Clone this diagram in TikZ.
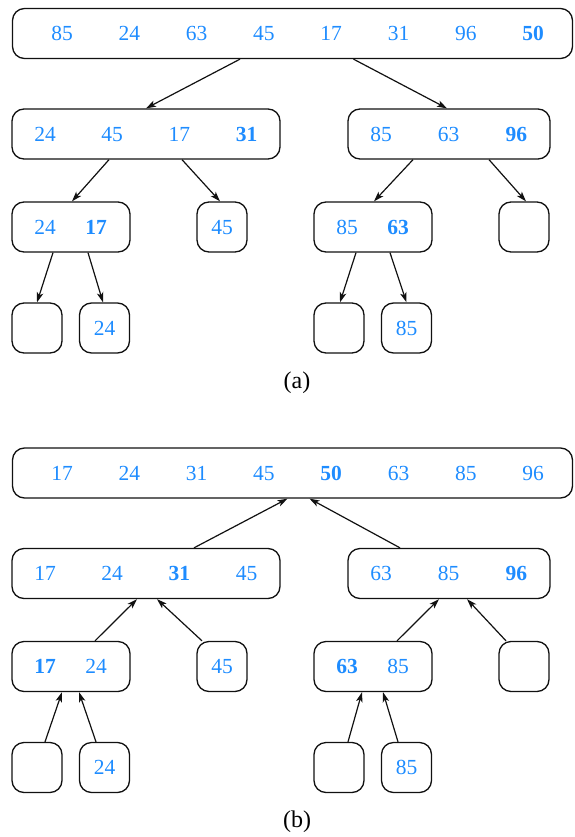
\documentclass[tikz,border=0pt]{standalone}
\usepackage{fontspec}
\setmainfont{Liberation Serif}
\usepackage{tikz}
\usetikzlibrary{arrows.meta}
\definecolor{KeyBlue}{HTML}{1E8CFF}
\definecolor{LineDark}{HTML}{111111}

\begin{document}
\begin{tikzpicture}[
    x=1pt, y=-1pt,
    box/.style={
        draw=LineDark,
        line width=1.3pt,
        rounded corners=12pt,
        minimum height=50pt,
        inner sep=0pt
    },
    num/.style={text=KeyBlue, font=\fontsize{21.5}{21.5}\selectfont,
        inner sep=0pt, text height=14.5pt, text depth=0pt},
    caption/.style={font=\fontsize{24}{24}\selectfont},
    link/.style={-{Stealth[length=10pt,width=6.5pt,inset=2.5pt]}, line width=1.2pt, draw=LineDark}
]
    \useasboundingbox (0,0) rectangle (574,837);

    % (a) splitting around the pivot
    \node[box, minimum width=560pt] (rootA) at (292.5,33.5) {};
    \node[box, minimum width=268pt] (leftA) at (146,134) {};
    \node[box, minimum width=202pt] (rightA) at (449,134) {};
    \node[box, minimum width=118pt] (llA) at (71,227) {};
    \node[box, minimum width=50pt] (lrA) at (222,227) {};
    \node[box, minimum width=118pt] (rlA) at (373,227) {};
    \node[box, minimum width=50pt] (rrA) at (524,227) {};
    \node[box, minimum width=50pt] (lllA) at (37,328) {};
    \node[box, minimum width=50pt] (llrA) at (104.5,328) {};
    \node[box, minimum width=50pt] (rllA) at (339,328) {};
    \node[box, minimum width=50pt] (rlrA) at (406.5,328) {};

    \foreach \v [count=\i] in {85,24,63,45,17,31,96,\textbf{50}}
        \node[num] (rootA-\i) at ({62+67.3*(\i-1)},33.5) {\v};
    \foreach \v [count=\i] in {24,45,17,\textbf{31}}
        \node[num] (leftA-\i) at ({45+67.2*(\i-1)},134) {\v};
    \foreach \v [count=\i] in {85,63,\textbf{96}}
        \node[num] (rightA-\i) at ({381+67.7*(\i-1)},134) {\v};
    \node[num] (llA-1) at (45,227) {24};
    \node[num] (llA-2) at (96,227) {\textbf{17}};
    \node[num] (lrA-1) at (222,227) {45};
    \node[num] (rlA-1) at (347,227) {85};
    \node[num] (rlA-2) at (398,227) {\textbf{63}};
    \node[num] (llrA-1) at (104.5,328) {24};
    \node[num] (rlrA-1) at (406.5,328) {85};

    \draw[link] ([xshift=-52.5pt]rootA.south) -- (leftA.north);
    \draw[link] ([xshift=61pt]rootA.south) -- ([xshift=-2pt]rightA.north);
    \draw[link] ([xshift=-37pt]leftA.south) -- ([xshift=1pt]llA.north);
    \draw[link] ([xshift=36pt]leftA.south) -- ([xshift=-2pt]lrA.north);
    \draw[link] ([xshift=-36pt]rightA.south) -- ([xshift=1pt]rlA.north);
    \draw[link] ([xshift=40pt]rightA.south) -- ([xshift=2pt]rrA.north);
    \draw[link] ([xshift=-18pt]llA.south) -- (lllA.north);
    \draw[link] ([xshift=17pt]llA.south) -- ([xshift=-1.5pt]llrA.north);
    \draw[link] ([xshift=-17pt]rlA.south) -- ([xshift=1pt]rllA.north);
    \draw[link] ([xshift=17pt]rlA.south) -- (rlrA.north);

    \node[caption] (capA) at (297,383) {(a)};

    % (b) joining the sorted parts
    \begin{scope}[yshift=-439.5pt]
        \node[box, minimum width=560pt] (rootB) at (292.5,33.5) {};
        \node[box, minimum width=268pt] (leftB) at (146,134) {};
        \node[box, minimum width=202pt] (rightB) at (449,134) {};
        \node[box, minimum width=118pt] (llB) at (71,227) {};
        \node[box, minimum width=50pt] (lrB) at (222,227) {};
        \node[box, minimum width=118pt] (rlB) at (373,227) {};
        \node[box, minimum width=50pt] (rrB) at (524,227) {};
        \node[box, minimum width=50pt] (lllB) at (37,328) {};
        \node[box, minimum width=50pt] (llrB) at (104.5,328) {};
        \node[box, minimum width=50pt] (rllB) at (339,328) {};
        \node[box, minimum width=50pt] (rlrB) at (406.5,328) {};

        \foreach \v [count=\i] in {17,24,31,45,\textbf{50},63,85,96}
            \node[num] (rootB-\i) at ({62+67.3*(\i-1)},33.5) {\v};
        \foreach \v [count=\i] in {17,24,\textbf{31},45}
            \node[num] (leftB-\i) at ({45+67.2*(\i-1)},134) {\v};
        \foreach \v [count=\i] in {63,85,\textbf{96}}
            \node[num] (rightB-\i) at ({381+67.7*(\i-1)},134) {\v};
        \node[num] (llB-1) at (45,227) {\textbf{17}};
        \node[num] (llB-2) at (96,227) {24};
        \node[num] (lrB-1) at (222,227) {45};
        \node[num] (rlB-1) at (347,227) {\textbf{63}};
        \node[num] (rlB-2) at (398,227) {85};
        \node[num] (llrB-1) at (104.5,328) {24};
        \node[num] (rlrB-1) at (406.5,328) {85};

        \draw[link] ([xshift=48pt]leftB.north) -- ([xshift=-5pt]rootB.south);
        \draw[link] ([xshift=-49pt]rightB.north) -- ([xshift=17pt]rootB.south);
        \draw[link] ([xshift=24pt]llB.north) -- ([xshift=-9pt]leftB.south);
        \draw[link] ([xshift=-20pt]lrB.north) -- ([xshift=11pt]leftB.south);
        \draw[link] ([xshift=24pt]rlB.north) -- ([xshift=-10pt]rightB.south);
        \draw[link] ([xshift=-18pt]rrB.north) -- ([xshift=18pt]rightB.south);
        \draw[link] ([xshift=8pt]lllB.north) -- ([xshift=-9pt]llB.south);
        \draw[link] ([xshift=-8.5pt]llrB.north) -- ([xshift=8pt]llB.south);
        \draw[link] ([xshift=9pt]rllB.north) -- ([xshift=-11pt]rlB.south);
        \draw[link] ([xshift=-8.5pt]rlrB.north) -- ([xshift=10pt]rlB.south);

        \node[caption] (capB) at (297,382) {(b)};
    \end{scope}
\end{tikzpicture}
\end{document}
